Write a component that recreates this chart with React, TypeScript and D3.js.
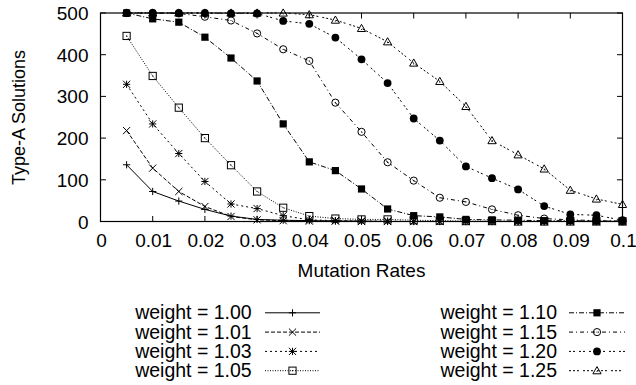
import * as d3 from "d3";

// mutation rates (x)
const rates = [
  0.005, 0.01, 0.015, 0.02, 0.025, 0.03, 0.035, 0.04, 0.045, 0.05,
  0.055, 0.06, 0.065, 0.07, 0.075, 0.08, 0.085, 0.09, 0.095, 0.1,
];

// Type-A solutions for each weight
const w100 = [136, 72, 49, 29, 13, 5, 3, 2, 1, 1, 0, 0, 0, 0, 0, 0, 0, 0, 0, 0];
const w101 = [218, 128, 72, 36, 12, 4, 2, 1, 1, 0, 0, 0, 0, 0, 0, 0, 0, 0, 0, 0];
const w103 = [329, 234, 163, 96, 42, 31, 14, 4, 2, 1, 1, 0, 0, 0, 0, 0, 0, 0, 0, 0];
const w105 = [445, 349, 273, 200, 135, 72, 33, 13, 7, 5, 5, 3, 2, 1, 1, 0, 0, 0, 0, 0];
const w110 = [500, 486, 478, 442, 392, 337, 234, 143, 122, 78, 30, 14, 11, 5, 4, 3, 2, 2, 1, 1];
const w115 = [500, 500, 499, 491, 482, 451, 413, 385, 285, 215, 142, 98, 57, 47, 29, 15, 7, 4, 2, 1];
const w120 = [500, 500, 500, 500, 499, 499, 481, 474, 441, 389, 332, 247, 194, 132, 104, 77, 37, 17, 15, 3];
const w125 = [500, 500, 500, 500, 500, 500, 500, 496, 483, 463, 431, 380, 336, 276, 194, 160, 126, 75, 54, 41];

const xTicks = [0, 0.01, 0.02, 0.03, 0.04, 0.05, 0.06, 0.07, 0.08, 0.09, 0.1];
const yTicks = [0, 100, 200, 300, 400, 500];

type Marker = "plus" | "cross" | "star" | "box" | "boxf" | "circle" | "circlef" | "tri";

const series: { label: string; values: number[]; dash: string; marker: Marker }[] = [
  { label: "weight = 1.00", values: w100, dash: "none", marker: "plus" },
  { label: "weight = 1.01", values: w101, dash: "4,2", marker: "cross" },
  { label: "weight = 1.03", values: w103, dash: "2,3", marker: "star" },
  { label: "weight = 1.05", values: w105, dash: "1,1.5", marker: "box" },
  { label: "weight = 1.10", values: w110, dash: "5,2,1,2", marker: "boxf" },
  { label: "weight = 1.15", values: w115, dash: "4,3,1,3", marker: "circle" },
  { label: "weight = 1.20", values: w120, dash: "2,2,2,4", marker: "circlef" },
  { label: "weight = 1.25", values: w125, dash: "2,2,2,2,2,4", marker: "tri" },
];

const W = 636;
const H = 385;
const margin = { left: 100.5, right: 13.5, top: 13, bottom: 163.5 };
const FONT = "'Liberation Sans', Arial, Helvetica, sans-serif";

const x = d3.scaleLinear().domain([0, 0.1]).range([margin.left, W - margin.right]);
const y = d3.scaleLinear().domain([0, 500]).range([H - margin.bottom, margin.top]);

function drawMarker(type: Marker, cx: number, cy: number, key: string) {
  const s = 3.6;
  const st = { stroke: "#000", strokeWidth: 1, fill: "none" };
  switch (type) {
    case "plus":
      return (
        <g key={key} {...st}>
          <line x1={cx - s} x2={cx + s} y1={cy} y2={cy} />
          <line x1={cx} x2={cx} y1={cy - s} y2={cy + s} />
        </g>
      );
    case "cross":
      return (
        <g key={key} {...st}>
          <line x1={cx - s} x2={cx + s} y1={cy - s} y2={cy + s} />
          <line x1={cx - s} x2={cx + s} y1={cy + s} y2={cy - s} />
        </g>
      );
    case "star":
      return (
        <g key={key} {...st}>
          <line x1={cx - s} x2={cx + s} y1={cy} y2={cy} />
          <line x1={cx} x2={cx} y1={cy - s} y2={cy + s} />
          <line x1={cx - s} x2={cx + s} y1={cy - s} y2={cy + s} />
          <line x1={cx - s} x2={cx + s} y1={cy + s} y2={cy - s} />
        </g>
      );
    case "box":
      return (
        <g key={key}>
          <rect x={cx - s} y={cy - s} width={2 * s} height={2 * s} {...st} />
          <circle cx={cx} cy={cy} r={0.6} fill="#000" />
        </g>
      );
    case "boxf":
      return <rect key={key} x={cx - s} y={cy - s} width={2 * s} height={2 * s} fill="#000" />;
    case "circle":
      return (
        <g key={key}>
          <circle cx={cx} cy={cy} r={s} {...st} />
          <circle cx={cx} cy={cy} r={0.6} fill="#000" />
        </g>
      );
    case "circlef":
      return <circle key={key} cx={cx} cy={cy} r={s + 0.3} fill="#000" />;
    case "tri":
      return (
        <g key={key}>
          <path
            d={`M${cx},${cy - s - 0.5}L${cx + s + 0.5},${cy + s - 0.5}L${cx - s - 0.5},${cy + s - 0.5}Z`}
            {...st}
          />
          <circle cx={cx} cy={cy + 0.8} r={0.6} fill="#000" />
        </g>
      );
  }
}

export default function App() {
  const line = d3
    .line<number>()
    .x((_, i) => x(rates[i]))
    .y((d) => y(d));

  const x0 = x(0);
  const x1 = x(0.1);
  const y0 = y(0);
  const y1 = y(500);
  const tl = 5.5;

  return (
    <div style={{ position: "absolute", left: 0, top: 0 }}>
      <svg width={W} height={H} style={{ display: "block", background: "#fff" }} fontFamily={FONT}>
        {/* ticks */}
        {xTicks.map((t) => (
          <g key={"xt" + t} stroke="#000" strokeWidth={1}>
            <line x1={x(t)} x2={x(t)} y1={y0} y2={y0 - tl} />
            <line x1={x(t)} x2={x(t)} y1={y1} y2={y1 + tl} />
          </g>
        ))}
        {yTicks.map((t) => (
          <g key={"yt" + t} stroke="#000" strokeWidth={1}>
            <line x1={x0} x2={x0 + tl} y1={y(t)} y2={y(t)} />
            <line x1={x1} x2={x1 - tl} y1={y(t)} y2={y(t)} />
          </g>
        ))}
        {xTicks.map((t) => (
          <text key={"xl" + t} x={x(t) + 1} y={246.5} fontSize={19} textAnchor="middle" fill="#000">
            {t === 0 ? "0" : String(t)}
          </text>
        ))}
        {yTicks.map((t) => (
          <text key={"yl" + t} x={88.5} y={y(t) + 7} fontSize={19} textAnchor="end" fill="#000">
            {t}
          </text>
        ))}
        <text x={(x0 + x1) / 2} y={277.3} fontSize={19} textAnchor="middle" fill="#000">
          Mutation Rates
        </text>
        <text
          transform={`translate(25,117.5) rotate(-90)`}
          fontSize={18}
          textAnchor="middle"
          fill="#000"
        >
          Type-A Solutions
        </text>

        {/* series */}
        {series.map((s, si) => (
          <g key={s.label}>
            <path
              d={line(s.values) ?? ""}
              fill="none"
              stroke="#000"
              strokeWidth={1}
              strokeDasharray={s.dash}
            />
            {s.values.map((v, i) => drawMarker(s.marker, x(rates[i]), y(v), `m${si}-${i}`))}
          </g>
        ))}

        {/* frame */}
        <rect x={x0} y={y1} width={x1 - x0} height={y0 - y1} fill="none" stroke="#000" strokeWidth={1.2} />

        {/* legend */}
        {series.map((s, i) => {
          const col = Math.floor(i / 4);
          const row = i % 4;
          const base = 319.3 + row * 19.3;
          const textRight = col === 0 ? 251.7 : 557;
          const lx1 = col === 0 ? 265 : 569;
          const lx2 = col === 0 ? 320 : 625;
          const ly = base - 6.5;
          return (
            <g key={"lg" + i}>
              <text x={textRight} y={base} fontSize={19.5} textAnchor="end" fill="#000">
                {s.label}
              </text>
              <line
                x1={lx1}
                x2={lx2}
                y1={ly}
                y2={ly}
                stroke="#000"
                strokeWidth={1}
                strokeDasharray={s.dash}
              />
              {drawMarker(s.marker, (lx1 + lx2) / 2, ly, "lm" + i)}
            </g>
          );
        })}
      </svg>
    </div>
  );
}
